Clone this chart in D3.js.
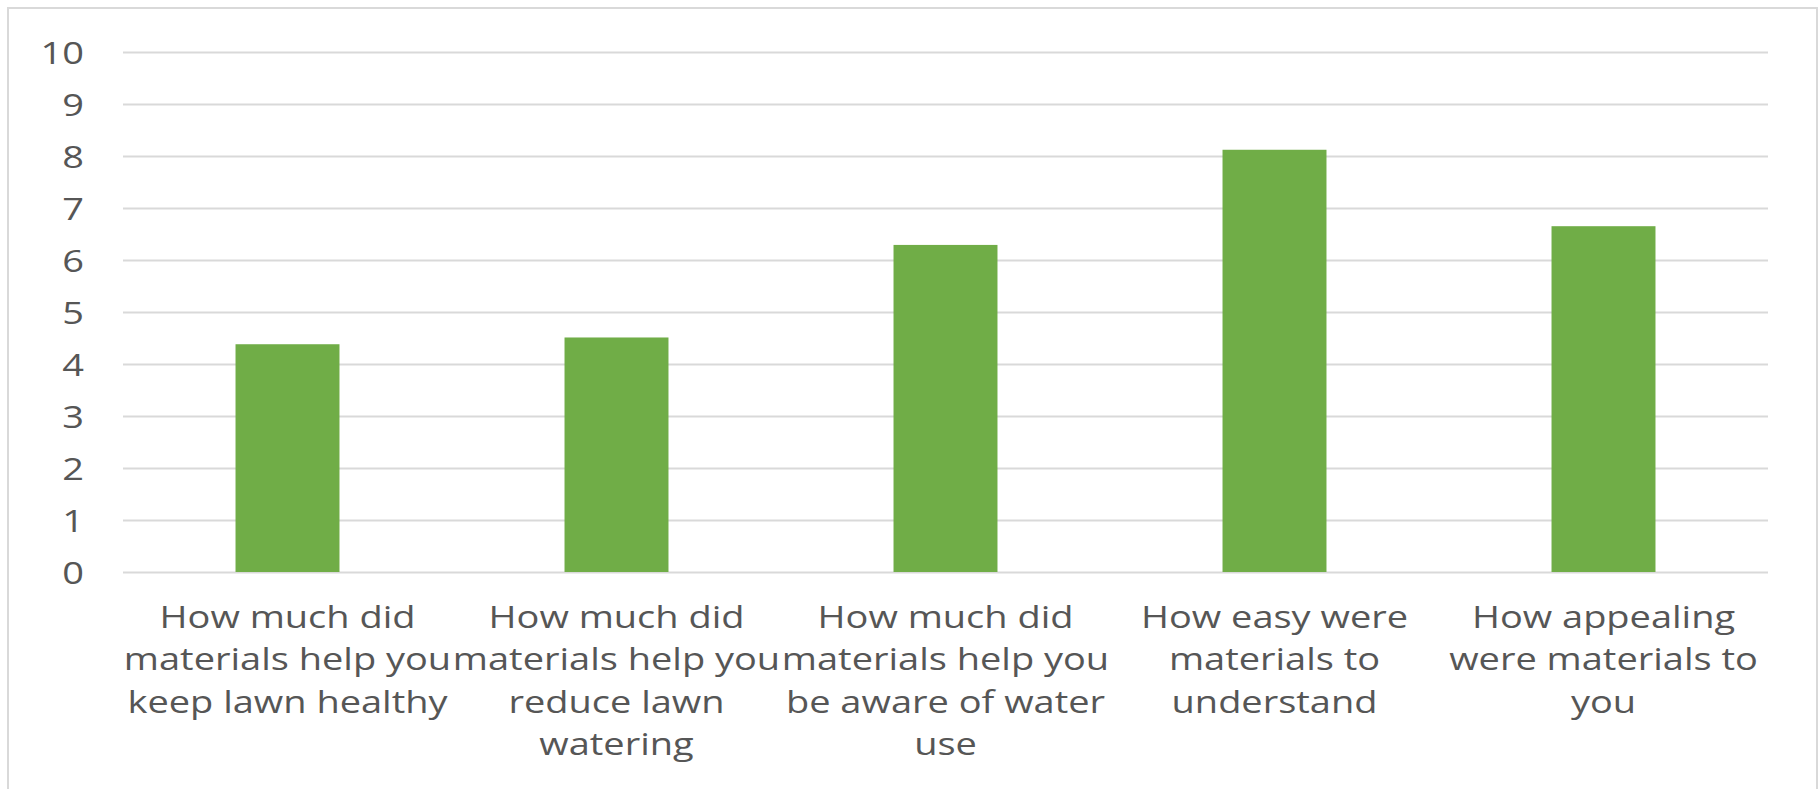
<!DOCTYPE html>
<html><head><meta charset="utf-8">
<script src="https://cdn.jsdelivr.net/npm/d3@7"></script>
<style>html,body{margin:0;padding:0;background:#fff;}</style>
</head><body>
<svg id="c" width="1820" height="789"></svg>
<script>
const categories = [
  ["How much did", "materials help you", "keep lawn healthy"],
  ["How much did", "materials help you", "reduce lawn", "watering"],
  ["How much did", "materials help you", "be aware of water", "use"],
  ["How easy were", "materials to", "understand"],
  ["How appealing", "were materials to", "you"]
];
const values = [4.38, 4.51, 6.29, 8.12, 6.65];
const yTicks = [0,1,2,3,4,5,6,7,8,9,10];

(function(){
const svg = d3.select("#c");
const pl = 123, pr = 1768, pt = 52, pb = 572;
const textColor = "#565656", font = "'Open Sans', sans-serif";
const sx = 1.225;

svg.append("rect").attr("x", 8).attr("y", 8).attr("width", 1809).attr("height", 800)
  .attr("fill", "#fff").attr("stroke", "#d9d9d9").attr("stroke-width", 2);

const x = d3.scaleBand().domain(d3.range(categories.length)).range([pl, pr])
  .paddingInner(0.684).paddingOuter(0.342);
const y = d3.scaleLinear().domain([0, 10]).range([pb, pt]);

const gy = svg.append("g").attr("transform", `translate(${pl},0)`)
  .call(d3.axisLeft(y).tickValues(yTicks).tickSize(-(pr-pl)).tickFormat(d3.format("d")).tickPadding(39));
gy.select(".domain").remove();
gy.selectAll(".tick line").attr("stroke", "#d9d9d9").attr("stroke-width", 2);
gy.selectAll(".tick text").attr("fill", textColor).attr("font-family", font).attr("font-size", 31)
  .attr("dy", "0.36em")
  .each(function(){ const t = d3.select(this); const xx = +t.attr("x"); t.attr("x", xx/sx).attr("transform", `scale(${sx},1)`); });

svg.append("g").selectAll("rect").data(values).join("rect")
  .attr("x", (d,i) => x(i)).attr("width", x.bandwidth())
  .attr("y", d => y(d)).attr("height", d => y(0) - y(d))
  .attr("fill", "#70ad47");

const lab = svg.append("g");
categories.forEach((lines, i) => {
  const cx = x(i) + x.bandwidth()/2;
  const t = lab.append("text").attr("text-anchor", "middle").attr("fill", textColor)
    .attr("font-family", font).attr("font-size", 31)
    .attr("transform", `translate(${cx},628) scale(${sx},1)`);
  lines.forEach((l, j) => t.append("tspan").attr("x", 0).attr("y", j*42.3).text(l));
});
})();
</script>
</body></html>
